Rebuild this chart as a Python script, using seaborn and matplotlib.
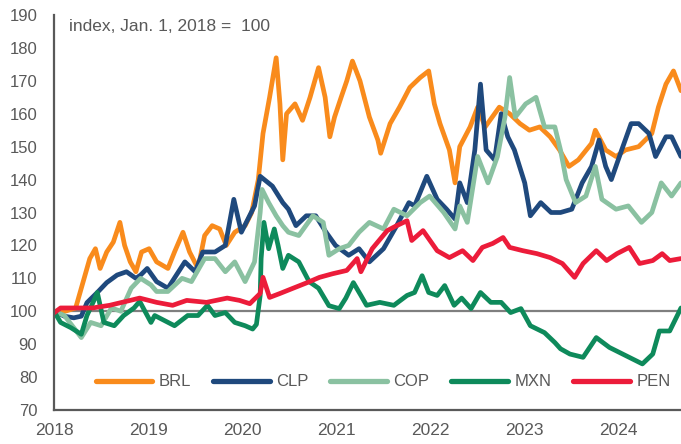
import matplotlib
matplotlib.use("Agg")
import matplotlib.pyplot as plt
import seaborn as sns
import pandas as pd

# ---- data (time in decimal years, index Jan 1 2018 = 100) ----
brl_t = [2018.00, 2018.12, 2018.23, 2018.32, 2018.38, 2018.44, 2018.49, 2018.56, 2018.63, 2018.70,
         2018.75, 2018.81, 2018.87, 2018.93, 2019.01, 2019.09, 2019.21, 2019.28, 2019.37, 2019.44,
         2019.53, 2019.60, 2019.68, 2019.76, 2019.83, 2019.92, 2020.03, 2020.10, 2020.17, 2020.22,
         2020.29, 2020.36, 2020.40, 2020.43, 2020.47, 2020.56, 2020.64, 2020.72, 2020.81, 2020.88,
         2020.93, 2020.98, 2021.05, 2021.11, 2021.17, 2021.25, 2021.35, 2021.44, 2021.47, 2021.57,
         2021.67, 2021.78, 2021.89, 2021.98, 2022.04, 2022.10, 2022.20, 2022.26, 2022.31, 2022.42,
         2022.50, 2022.58, 2022.68, 2022.73, 2022.84, 2022.95, 2023.05, 2023.16, 2023.27, 2023.37,
         2023.47, 2023.57, 2023.71, 2023.75, 2023.86, 2023.97, 2024.07, 2024.21, 2024.35, 2024.42,
         2024.50, 2024.58, 2024.66]
brl_v = [100, 100, 101, 110, 116, 119, 113, 118, 121, 127,
         120, 115, 112, 118, 119, 115, 113, 118, 124, 118,
         113, 123, 126, 125, 120, 124, 126, 130, 140, 154,
         165, 177, 163, 146, 160, 163, 158, 165, 174, 165,
         153, 159, 165, 170, 176, 170, 159, 152, 148, 157,
         162, 168, 171, 173, 163, 157, 149, 139, 150, 156,
         162, 156, 160, 162, 160, 157, 155, 156, 153, 149,
         144, 146, 151, 155, 149, 147, 149, 150, 154, 162,
         169, 173, 167]

clp_t = [2018.00, 2018.11, 2018.21, 2018.29, 2018.35, 2018.46, 2018.56, 2018.67, 2018.77, 2018.87,
         2018.92, 2018.99, 2019.09, 2019.21, 2019.39, 2019.50, 2019.58, 2019.71, 2019.82, 2019.91,
         2019.99, 2020.06, 2020.13, 2020.19, 2020.32, 2020.43, 2020.49, 2020.57, 2020.68, 2020.78,
         2020.89, 2020.99, 2021.13, 2021.24, 2021.35, 2021.50, 2021.64, 2021.77, 2021.83, 2021.96,
         2022.07, 2022.17, 2022.26, 2022.31, 2022.39, 2022.47, 2022.53, 2022.59, 2022.68, 2022.75,
         2022.82, 2022.89, 2023.00, 2023.06, 2023.17, 2023.28, 2023.38, 2023.50, 2023.61, 2023.71,
         2023.79, 2023.86, 2023.92, 2024.03, 2024.13, 2024.21, 2024.32, 2024.39, 2024.50, 2024.56,
         2024.66]
clp_v = [100, 98.5, 98, 98.5, 102.6, 105.7, 108.7, 111, 112, 110,
         111, 113, 109, 107, 115, 112, 118, 118, 120, 134,
         124, 128, 132, 141, 138, 133, 131, 126, 129, 129,
         124, 120, 117, 119, 115, 119, 126, 133, 132, 141,
         134, 131, 128, 139, 133, 149, 169, 149, 146, 160,
         153, 149, 139, 129, 133, 130, 130, 131, 139, 144,
         152, 144, 140, 149, 157, 157, 154, 147, 153, 153,
         147]

cop_t = [2018.00, 2018.11, 2018.21, 2018.29, 2018.39, 2018.50, 2018.61, 2018.71, 2018.82, 2018.92,
         2019.03, 2019.09, 2019.21, 2019.36, 2019.46, 2019.60, 2019.71, 2019.82, 2019.92, 2020.03,
         2020.13, 2020.19, 2020.21, 2020.28, 2020.36, 2020.43, 2020.49, 2020.60, 2020.75, 2020.86,
         2020.92, 2021.03, 2021.13, 2021.24, 2021.35, 2021.50, 2021.61, 2021.75, 2021.89, 2021.99,
         2022.14, 2022.26, 2022.31, 2022.39, 2022.50, 2022.61, 2022.71, 2022.79, 2022.84, 2022.90,
         2023.01, 2023.12, 2023.21, 2023.32, 2023.38, 2023.44, 2023.54, 2023.65, 2023.75, 2023.82,
         2023.97, 2024.10, 2024.24, 2024.35, 2024.45, 2024.56, 2024.66]
cop_v = [100, 98.7, 95, 92, 96.6, 95.6, 101, 100, 107, 110,
         108, 106, 106, 110, 109, 116, 116, 112, 115, 109,
         115, 130, 137, 133, 129, 126, 124, 123, 129, 127,
         117, 119, 120, 124, 127, 125, 131, 129, 133, 135,
         130, 125, 132, 127, 147, 139, 147, 159, 171, 159,
         163, 165, 156, 156, 149, 140, 133, 135, 144, 134,
         131, 132, 127, 130, 139, 135, 139]

mxn_t = [2018.00, 2018.07, 2018.18, 2018.29, 2018.35, 2018.42, 2018.46, 2018.53, 2018.64, 2018.74,
         2018.85, 2018.91, 2019.03, 2019.07, 2019.28, 2019.42, 2019.53, 2019.63, 2019.71, 2019.82,
         2019.92, 2020.03, 2020.11, 2020.15, 2020.19, 2020.20, 2020.23, 2020.28, 2020.34, 2020.38,
         2020.43, 2020.49, 2020.60, 2020.71, 2020.81, 2020.92, 2021.03, 2021.10, 2021.18, 2021.26,
         2021.32, 2021.46, 2021.61, 2021.75, 2021.83, 2021.91, 2021.98, 2022.07, 2022.15, 2022.25,
         2022.33, 2022.43, 2022.53, 2022.64, 2022.75, 2022.85, 2022.96, 2023.06, 2023.21, 2023.32,
         2023.38, 2023.48, 2023.62, 2023.76, 2023.90, 2024.04, 2024.25, 2024.36, 2024.43, 2024.54,
         2024.66]
mxn_v = [100, 96.6, 95, 93, 98.7, 103, 105.7, 96.6, 95.6, 98.7,
         101, 103, 96.6, 98.7, 95.6, 98.7, 98.7, 101.8, 98.7, 99.6,
         96.6, 95.6, 94.6, 96, 104.8, 116, 127, 119, 125, 120,
         113, 117, 115, 109, 107, 101.7, 100.8, 104, 108.7, 104.8,
         101.8, 102.7, 101.8, 104.8, 105.7, 110.8, 105.7, 104.8, 107.8, 101.8,
         104, 100.8, 105.7, 102.7, 102.7, 99.6, 100.8, 95.6, 93.5, 90.5,
         88.6, 87, 86, 92, 89, 87, 84, 87, 94, 94,
         101]

pen_t = [2018.00, 2018.07, 2018.24, 2018.41, 2018.59, 2018.81, 2018.91, 2019.09, 2019.26, 2019.41,
         2019.62, 2019.84, 2019.97, 2020.08, 2020.19, 2020.22, 2020.29, 2020.40, 2020.54, 2020.69,
         2020.82, 2020.96, 2021.11, 2021.22, 2021.26, 2021.38, 2021.54, 2021.64, 2021.75, 2021.80,
         2021.92, 2022.07, 2022.20, 2022.34, 2022.45, 2022.55, 2022.66, 2022.77, 2022.84, 2022.98,
         2023.13, 2023.27, 2023.40, 2023.53, 2023.62, 2023.76, 2023.87, 2023.98, 2024.11, 2024.22,
         2024.36, 2024.46, 2024.54, 2024.66]
pen_v = [99.5, 101, 101, 101, 101.8, 103.3, 104, 102.7, 101.8, 103.3,
         102.7, 104, 103.3, 102.3, 105.4, 110.3, 104.2, 105.4, 107, 108.7,
         110.3, 111.4, 112.4, 116, 112, 119, 124.5, 126, 127.5, 121.5,
         124.5, 118.4, 116.3, 118.4, 115.4, 119.4, 120.6, 122.4, 119.4, 118.4,
         117.5, 116.3, 114.5, 110.3, 114.5, 118.4, 115.4, 117.5, 119.4, 114.5,
         115.4, 117.5, 115.4, 116]

currencies = ["BRL", "CLP", "COP", "MXN", "PEN"]
colors = ["#F98B1C", "#1F497D", "#8AC1A1", "#0E8A5B", "#EC1C3A"]
year_ticks = [2018, 2019, 2020, 2021, 2022, 2023, 2024]
y_ticks = [70, 80, 90, 100, 110, 120, 130, 140, 150, 160, 170, 180, 190]
note = "index, Jan. 1, 2018 =  100"

series = {"BRL": (brl_t, brl_v), "CLP": (clp_t, clp_v), "COP": (cop_t, cop_v),
          "MXN": (mxn_t, mxn_v), "PEN": (pen_t, pen_v)}
df = pd.concat([pd.DataFrame({"t": t, "v": v, "cur": k}) for k, (t, v) in series.items()],
               ignore_index=True)

sns.set_theme(style="white")
plt.rcParams["font.family"] = ["Liberation Sans", "DejaVu Sans"]
gray = "#595959"

fig = plt.figure(figsize=(6.81, 4.44), dpi=100)
ax = fig.add_axes([54 / 681, 34 / 444, 627 / 681, 395 / 444])

ax.axhline(100, color="#7F7F7F", lw=1.6, zorder=1)
sns.lineplot(data=df, x="t", y="v", hue="cur", hue_order=currencies,
             palette=dict(zip(currencies, colors)), linewidth=3.4,
             estimator=None, sort=False, ax=ax, zorder=2)

ax.set_xlim(2018, 2024.66)
ax.set_ylim(70, 190)
ax.set_xticks(year_ticks)
ax.set_xticklabels([str(y) for y in year_ticks])
ax.set_yticks(y_ticks)
ax.set_xlabel("")
ax.set_ylabel("")

for s in ["top", "right"]:
    ax.spines[s].set_visible(False)
for s in ["left", "bottom"]:
    ax.spines[s].set_color(gray)
    ax.spines[s].set_linewidth(1.6)

ax.tick_params(axis="y", direction="in", length=4, width=1.5, color=gray,
               labelcolor=gray, labelsize=12, pad=12)
ax.tick_params(axis="x", direction="out", length=5, width=1.5, color=gray,
               labelcolor=gray, labelsize=12.5, pad=4)

ax.text(0.024, 0.97, note, transform=ax.transAxes, va="center", ha="left",
        color=gray, fontsize=12.5)

handles, labels = ax.get_legend_handles_labels()
leg = ax.legend(handles, labels, ncol=5, loc="center", bbox_to_anchor=(0.525, 0.071),
                frameon=False, handlelength=3.4, columnspacing=1.3, handletextpad=0.4,
                fontsize=12, labelcolor=gray)
for line in leg.get_lines():
    line.set_linewidth(3.8)
    line.set_solid_capstyle("round")

fig.savefig("out.png", dpi=100)
